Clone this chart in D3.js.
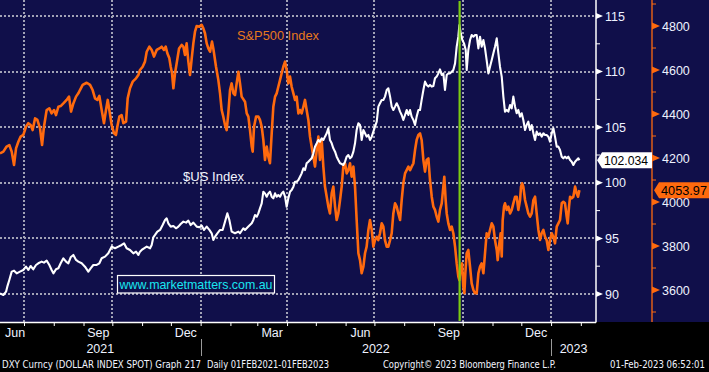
<!DOCTYPE html>
<html><head><meta charset="utf-8">
<script src="https://cdn.jsdelivr.net/npm/d3@7"></script>
<style>html,body{margin:0;padding:0;background:#000;overflow:hidden} svg{display:block}</style>
</head><body>
<svg id="c" width="709" height="372"></svg>
<script>
// ---------- DATA (day offset from 2021-06-06, value) ----------
const startDate = Date.UTC(2021, 5, 6);
const endDay = 620.8;

const spx = [
[0,4221],[3.5,4229],[6.9,4252],[9.7,4259],[12.2,4229],[14.6,4168],[16.7,4244],[19.1,4274],[21.5,4297],[24.3,4305],
[27.1,4342],[29.5,4358],[31.9,4350],[34,4327],[36.5,4380],[38.9,4373],[41.7,4335],[43.8,4259],[45.8,4342],[48.6,4418],
[51.4,4426],[53.8,4403],[56.3,4418],[58.3,4395],[60.8,4433],[63.2,4436],[66,4448],[69.4,4464],[71.9,4479],[74,4411],
[76.4,4448],[79.2,4479],[81.6,4494],[83.3,4509],[86.1,4532],[90.3,4542],[93.8,4532],[96.5,4509],[99,4471],[101.4,4464],
[103.5,4482],[105.9,4418],[108.3,4358],[110.4,4418],[112.2,4464],[113.9,4418],[116.3,4350],[118.8,4312],[120.8,4305],[122.2,4342],
[124.3,4388],[126.7,4395],[128.5,4358],[131.3,4365],[133,4471],[135.4,4517],[138.2,4547],[141.7,4562],[144.1,4577],[145.8,4600],
[148.6,4615],[151,4638],[152.8,4683],[155.6,4706],[158,4691],[160.4,4661],[163.2,4691],[166,4698],[168.4,4706],[170.8,4691],
[172.6,4706],[174.3,4676],[176.4,4653],[177.8,4615],[179.2,4585],[180.6,4517],[182.3,4585],[184,4630],[186.5,4698],[189.2,4714],
[191,4706],[192.7,4668],[194.4,4721],[196.2,4638],[197.9,4577],[199.7,4653],[201.4,4721],[203.1,4774],[204.9,4800],[207.6,4797],
[210.1,4805],[211.8,4789],[213.5,4767],[215.3,4721],[217,4698],[218.8,4683],[220.8,4729],[222.2,4698],[225,4615],[227.4,4555],
[229.2,4494],[230.9,4418],[232.6,4388],[234.4,4350],[236.1,4327],[237.8,4403],[239.6,4509],
[241.3,4539],[243.1,4494],[244.8,4486],[246.5,4539],[248.3,4592],[250,4539],[251.7,4479],[255.2,4456],[257,4403],[258.7,4388],
[260.4,4327],[262.2,4252],[263.2,4229],[264.6,4342],[266.7,4388],[269.1,4388],[270.8,4373],[272.6,4342],[274.3,4282],[276,4191],
[277.8,4252],[279.5,4206],[281.2,4176],[283,4312],[284.7,4433],[286.5,4479],[288.2,4494],[289.9,4524],[291.7,4555],[293.4,4585],
[295.1,4615],[296.9,4638],[298.6,4600],[300.3,4539],[302.1,4570],[303.8,4524],[305.6,4494],[307.3,4464],[309,4479],[310.8,4403],
[312.5,4418],[314.2,4403],[316,4433],[317.7,4464],[319.4,4418],[321.2,4373],[322.9,4297],[324.6,4252],[326.4,4206],[328.1,4161],
[329.9,4236],[331.6,4297],[333.3,4191],[335.1,4282],[336.8,4161],[338.5,4070],[340.3,4024],[342,3979],[343.7,3948],[345.5,4039],
[347.2,4070],[349,3979],[350.7,3918],[352.4,3948],[354.2,4009],[355.9,4070],[357.6,4161],[359.4,4176],[361.1,4130],[362.8,4145],
[364.6,4176],[366.3,4115],[368.1,4161],[369.8,4070],[371.5,3918],[373.3,3767],[375,3736],[376.7,3676],[378.5,3706],[380.2,3767],
[381.9,3797],[383.7,3873],[385.4,3918],[387.2,3873],[388.9,3797],[390.6,3827],[392.4,3842],[394.1,3827],[395.8,3858],[397.6,3903],
[399.3,3888],[401,3827],[402.8,3797],[404.5,3797],[406.3,3827],[408,3858],[409.7,3948],[411.5,3994],[413.2,3979],[414.9,3948],
[416.7,3918],[418.4,4009],[420.1,4085],[421.9,4130],[423.6,4145],[425.4,4161],[427.1,4145],[428.8,4161],[430.6,4176],[432.3,4236],
[434,4282],[435.8,4305],
[437.5,4312],[439.2,4282],[441,4191],[442.7,4138],[444.4,4191],[446.2,4198],[447.9,4100],[449.7,4024],[451.4,3979],[453.1,3964],
[454.9,3933],[456.6,3911],[458.3,3964],[460.1,3994],[461.8,4070],[462.8,4115],[464.2,4009],[465.3,3948],[467,3903],[468.8,3873],
[470.5,3888],[472.2,3858],[474,3797],[475.7,3721],[477.4,3661],[478.5,3645],[479.9,3706],[481.3,3721],[482.6,3615],[483.7,3585],
[484.7,3676],[486.1,3767],[487.8,3782],[489.6,3706],[491.3,3630],[493.1,3600],[494.8,3585],[496.5,3585],[498.3,3676],[500,3706],
[501.7,3721],[503.5,3676],[505.2,3767],[506.9,3858],[508.7,3842],[510.4,3873],[512.2,3903],[513.9,3888],[515.6,3827],[517.4,3782],
[518.4,3736],[520.1,3812],[521.5,3858],[522.6,3752],[523.6,3918],[525,3979],[526,3994],[527.8,3964],[529.5,3979],[531.3,3948],
[533,3964],[534.7,3994],[536.5,4024],[538.2,4024],[539.9,3964],[541.7,4009],[542.7,4070],[543.8,4085],[545.1,4070],[546.9,4009],
[548.6,3979],[550.3,3948],[552.1,3933],[553.8,3948],[555.6,4009],[557.3,4024],[559,3948],[560.8,3873],[562.5,3827],[564.2,3858],
[566,3873],[567.7,3842],[569.4,3827],[571.2,3782],[572.9,3827],[574.7,3858],[576.4,3842],[578.1,3812],[579.9,3888],[581.6,3903],
[583.3,3918],[585.1,3994],[586.8,4001],[588.5,3994],[590.3,3933],[591.3,3903],[592.7,3979],[593.8,4024],[595.5,4017],[597.2,4024],
[599,4070],[600.7,4039],[602.1,4024],[603.5,4053.97]
];

const dxy = [
[0,90.06],[3.5,89.91],[6.3,90.21],[7.6,90.66],[9.7,91.26],[12.2,92.01],[14.6,92.10],[17.4,91.86],[20.8,92.01],[24.3,92.16],
[27.1,92.46],[29.5,92.16],[31.9,92.52],[34.7,92.22],[37.5,92.61],[39.9,92.76],[43.4,92.91],[45.8,92.82],[48.6,93.00],[51.4,92.61],
[53.8,92.16],[55.6,91.86],[58.3,92.22],[60.8,92.31],[63.2,92.76],[66,93.21],[68.8,92.91],[71.2,92.76],[73.6,93.30],[76.4,93.51],
[79.2,93.06],[81.6,92.91],[85.1,92.76],[88.5,92.46],[92,92.01],[94.4,92.31],[97.2,92.61],[100.7,92.61],[103.5,92.76],[105.9,93.21],
[109.4,93.36],[112.8,93.66],[116.3,94.26],[119.8,94.11],[123.3,94.26],[126.7,94.41],[129.2,94.56],[131.9,94.11],[135.4,93.96],[138.9,93.66],
[141.7,93.81],[144.1,93.51],[145.8,93.81],[147.6,93.96],[150,94.11],[152.8,94.26],[156.3,94.11],[158,94.41],[159.7,95.10],[161.5,95.31],
[163.9,95.61],[166.7,95.76],[169.4,96.20],[171.9,96.66],[173.6,96.80],[175.3,96.36],[177.8,96.06],[180.6,96.12],[183.3,95.91],[185.8,96.06],
[188.2,96.30],[191,96.51],[193.8,96.42],[196.2,96.60],[198.6,96.20],[201.4,96.42],[204.9,96.06],[207.6,96.00],[210.1,96.15],[212.5,95.76],
[215.3,96.06],[218.1,95.76],[220.5,95.46],[222.2,94.86],[224,95.16],[226.4,95.46],[229.2,95.76],[231.9,95.76],[234.4,96.51],[236.8,97.25],
[238.9,96.66],[241.3,95.61],[244.8,95.46],[248.3,95.61],
[250,95.46],[253.5,95.91],[255.2,95.76],[258.7,96.06],[262.2,96.36],[263.9,96.66],[265.6,97.10],[267.4,96.95],[269.1,97.25],[270.8,97.70],
[272.6,98.15],[274.3,99.20],[276,99.05],[277.8,98.75],[279.5,99.05],[281.2,99.20],[283,98.75],[284.7,98.60],[286.5,99.05],[288.2,98.75],
[289.9,98.90],[291.7,98.75],[293.4,99.05],[295.1,99.20],[296.9,98.75],[298.6,97.85],[300.3,98.60],[302.1,99.20],[303.8,99.35],[305.6,99.65],
[307.3,100.10],[309,100.10],[310.8,100.25],[312.5,100.55],[314.2,100.85],[316,101.30],[317.7,101.15],[319.4,101.75],[321.2,101.90],[322.9,102.05],
[324.6,102.20],[326.4,102.65],[328.1,103.25],[329.9,103.55],[331.6,103.85],[333.3,103.70],[335.1,104.00],[336.8,103.85],[338.5,104.15],[340.3,104.45],
[342,104.90],[343.7,103.85],[345.5,103.55],[347.2,103.10],[349,102.80],[350.7,102.35],[352.4,102.05],[354.2,101.75],[355.9,101.69],[357.6,101.60],
[359.4,101.90],[361.1,102.35],[362.8,102.50],[364.6,102.20],[366.3,102.35],[368.1,102.80],[369.8,103.55],[371.5,104.75],[373.3,105.35],[375,105.20],
[376.7,103.85],[378.5,104.75],[380.2,104.45],[381.9,104.15],[383.7,104.30],[385.4,103.85],[387.2,104.15],[388.9,104.60],[390.6,105.05],[392.4,105.50],
[394.1,106.85],[395.8,107.15],[397.6,107.45],[399.3,107.45],[401,107.75],[402.8,108.35],[404.5,108.50],[406.3,107.75],[408,106.85],[409.7,106.55],
[411.5,106.85],[413.2,107.15],[414.9,106.85],[416.7,106.40],[418.4,106.10],[420.1,105.65],[421.9,106.10],[423.6,106.55],[425.4,106.10],[427.1,106.55],
[428.8,105.95],[430.6,105.65],[432.3,105.20],[434,105.95],[435.8,106.55],
[437.5,106.55],[439.2,107.45],[441,108.35],[442.7,109.10],[444.4,108.80],[446.2,108.65],[447.9,108.80],[449.7,108.65],[451.4,108.71],[453.1,109.40],
[454.9,109.55],[456.6,109.84],[458.3,110.20],[460.1,109.69],[461.8,109.84],[463.5,108.35],[465.3,109.69],[467,109.84],[468.8,109.84],[470.5,109.99],
[472.2,110.14],[474,110.74],[475.7,112.24],[477.4,113.14],[478.5,114.19],[479.9,113.44],[481.6,112.84],[483.3,112.54],[485.1,111.94],[486.1,110.14],
[487.8,111.94],[489.6,112.84],[491.3,113.29],[493.1,113.14],[494.8,113.29],[496.5,113.29],[498.3,112.09],[500,113.14],[501.7,112.24],[503.5,112.84],
[505.2,112.09],[506.9,111.04],[508.7,109.84],[510.4,110.44],[512.2,111.04],[513.9,111.64],[515.6,112.24],[517.4,112.99],[519.1,111.64],[520.8,110.44],
[522.6,109.55],[524.3,107.75],[526,106.40],[527.8,106.55],[529.5,106.40],[531.3,107.00],[533,106.70],[534.7,107.75],[536.5,106.85],[538.2,106.25],
[539.9,106.55],[541.7,105.95],[543.4,106.25],[545.1,105.65],[546.9,104.75],[548.6,105.20],[550.3,105.50],[552.1,104.75],[553.8,105.20],[555.6,104.45],
[557.3,103.85],[559,104.60],[560.8,104.30],[562.5,104.45],[564.2,104.15],[566,104.45],[567.7,104.30],[569.4,104.30],[571.2,104.15],[572.9,103.70],
[574.7,104.45],[576.4,104.90],[578.1,104.15],[579.9,103.25],[581.6,103.25],[583.3,102.95],[585.1,102.35],[586.8,102.20],[588.5,102.35],[590.3,102.20],
[592,102.35],[593.8,102.05],[595.5,101.90],[597.2,101.60],[599,101.90],[600.7,102.05],[602.4,102.20],[603.5,102.034]
];

const dxyTicks = [90, 95, 100, 105, 110, 115];
const dxyMinor = [92.5, 97.5, 102.5, 107.5, 112.5];
const spxTicks = [3600, 3800, 4000, 4200, 4400, 4600, 4800];
const spxMinor = [3500, 3700, 3900, 4100, 4300, 4500, 4700, 4900];
const monthLabels = [["2021-06-16T12:00Z","Jun"],["2021-09-16T12:00Z","Sep"],["2021-12-16T12:00Z","Dec"],
  ["2022-03-16T12:00Z","Mar"],["2022-06-16T12:00Z","Jun"],["2022-09-16T12:00Z","Sep"],["2022-12-16T12:00Z","Dec"]];
const gridMonths = ["2021-07-01","2021-10-01","2022-01-01","2022-04-01","2022-07-01","2022-10-01","2023-01-01"];
const yearLabels = ["2021", "2022", "2023"];
const yearBreaks = ["2022-01-01", "2023-01-01"];
const markerDate = "2022-09-27T18:00Z";
const lastDxy = 102.034, lastSpx = 4053.97;

// ---------- DRAW ----------
const W = 709, H = 372, plotR = 596, plotB = 322, axis2X = 652;
const navy = "#100f4a", orange = "#ff6a0e", grid = "#a2a2b6", txt = "#eef2ff";
const dayToDate = d => new Date(startDate + d * 864e5);

const x = d3.scaleUtc().domain([dayToDate(0), dayToDate(endDay)]).range([0, plotR]);
const yD = d3.scaleLinear().domain([90, 115]).range([294, 16]);
const yS = d3.scaleLinear().domain([3600, 4800]).range([290, 26]);

const svg = d3.select("#c");
svg.append("rect").attr("width", W).attr("height", H).attr("fill", "#000");
svg.append("rect").attr("width", W).attr("height", plotB).attr("fill", navy);

const defs = svg.append("defs");
defs.append("clipPath").attr("id", "clip").append("rect").attr("width", plotR).attr("height", plotB);

// gridlines
const g = svg.append("g");
g.selectAll(".hg").data(dxyTicks).join("line")
  .attr("x1", 0).attr("x2", plotR - 1).attr("y1", d => Math.round(yD(d))).attr("y2", d => Math.round(yD(d)))
  .attr("stroke", grid).attr("stroke-width", 2).attr("stroke-dasharray", "2,2");
g.selectAll(".vg").data(gridMonths).join("line")
  .attr("x1", d => Math.round(x(new Date(d)))).attr("x2", d => Math.round(x(new Date(d))))
  .attr("y1", 0).attr("y2", plotB)
  .attr("stroke", grid).attr("stroke-width", 2).attr("stroke-dasharray", "2,2");

// lines
const clipG = svg.append("g").attr("clip-path", "url(#clip)");
const lineS = d3.line().x(d => x(dayToDate(d[0]))).y(d => yS(d[1])).curve(d3.curveLinear);
const lineD = d3.line().x(d => x(dayToDate(d[0]))).y(d => yD(d[1])).curve(d3.curveLinear);
clipG.append("path").datum(spx).attr("d", lineS).attr("fill", "none")
  .attr("stroke", orange).attr("stroke-width", 2.6).attr("stroke-linejoin", "round");
clipG.append("path").datum(dxy).attr("d", lineD).attr("fill", "none")
  .attr("stroke", "#ffffff").attr("stroke-width", 2.1).attr("stroke-linejoin", "round");

// green marker
const mx = x(new Date(markerDate));
svg.append("line").attr("x1", mx).attr("x2", mx).attr("y1", 1).attr("y2", plotB - 1)
  .attr("stroke", "#7ccb12").attr("stroke-width", 2.2);

// series labels
svg.append("text").attr("x", 237).attr("y", 40).text("S&P500 Index")
  .attr("fill", "#e8791c").attr("font-family", "Liberation Sans, Arial, sans-serif").attr("font-size", 13.5)
  .attr("textLength", 82).attr("lengthAdjust", "spacingAndGlyphs");
svg.append("text").attr("x", 183).attr("y", 181).text("$US Index")
  .attr("fill", "#f4f6ff").attr("font-family", "Liberation Sans, Arial, sans-serif").attr("font-size", 13.5)
  .attr("textLength", 61).attr("lengthAdjust", "spacingAndGlyphs");

// website box
svg.append("rect").attr("x", 117.5).attr("y", 275.5).attr("width", 157).attr("height", 17.5)
  .attr("fill", navy).attr("stroke", "#ffffff").attr("stroke-width", 1.2);
svg.append("text").attr("x", 119.5).attr("y", 289).text("www.marketmatters.com.au")
  .attr("fill", "#19e6f0").attr("font-family", "Liberation Sans, Arial, sans-serif").attr("font-size", 13.5)
  .attr("textLength", 153).attr("lengthAdjust", "spacingAndGlyphs");

// right DXY axis
const axD = d3.axisRight(yD).tickValues(dxyTicks).tickSize(0).tickPadding(9).tickFormat(d3.format("d"));
const gD = svg.append("g").attr("transform", `translate(${plotR},0)`).call(axD);
gD.select(".domain").remove();
gD.selectAll("text").attr("fill", txt).attr("font-family", "Liberation Sans, Arial, sans-serif").attr("font-size", 12.5);
svg.append("line").attr("x1", plotR).attr("x2", plotR).attr("y1", 0).attr("y2", plotB + 0.5)
  .attr("stroke", "#fff").attr("stroke-width", 1.5);
svg.selectAll(".dtri").data(dxyTicks).join("path")
  .attr("d", d => `M${plotR},${yD(d) - 3}L${plotR + 7},${yD(d)}L${plotR},${yD(d) + 3}Z`).attr("fill", "#fff");
svg.selectAll(".dmin").data(dxyMinor).join("line")
  .attr("x1", plotR).attr("x2", plotR + 4).attr("y1", d => yD(d)).attr("y2", d => yD(d))
  .attr("stroke", "#fff").attr("stroke-width", 1);

// right SPX axis
const axS = d3.axisRight(yS).tickValues(spxTicks).tickSize(0).tickPadding(10).tickFormat(d3.format("d"));
const gS = svg.append("g").attr("transform", `translate(${axis2X},0)`).call(axS);
gS.select(".domain").remove();
gS.selectAll("text").attr("fill", txt).attr("font-family", "Liberation Sans, Arial, sans-serif").attr("font-size", 12.5);
svg.append("line").attr("x1", axis2X).attr("x2", axis2X).attr("y1", 0).attr("y2", plotB)
  .attr("stroke", orange).attr("stroke-width", 1.3);
svg.selectAll(".stri").data(spxTicks).join("path")
  .attr("d", d => `M${axis2X},${yS(d) - 3.5}L${axis2X + 8},${yS(d)}L${axis2X},${yS(d) + 3.5}Z`).attr("fill", orange);
svg.selectAll(".smin").data(spxMinor).join("line")
  .attr("x1", axis2X).attr("x2", axis2X + 4).attr("y1", d => yS(d)).attr("y2", d => yS(d))
  .attr("stroke", orange).attr("stroke-width", 1);

// value tags
const ty = yD(lastDxy);
svg.append("path").attr("d", `M${plotR + 1},${ty}L${plotR + 6},${ty - 8}L${axis2X},${ty - 8}L${axis2X},${ty + 8}L${plotR + 6},${ty + 8}Z`)
  .attr("fill", "#fff");
svg.append("text").attr("x", plotR + 8).attr("y", ty + 4.5).text(d3.format(".3f")(lastDxy))
  .attr("fill", "#000").attr("font-family", "Liberation Sans, Arial, sans-serif").attr("font-size", 12.5)
  .attr("textLength", 44).attr("lengthAdjust", "spacingAndGlyphs");
const sy = yS(lastSpx);
svg.append("path").attr("d", `M${axis2X + 2},${sy}L${axis2X + 7},${sy - 8}L${W},${sy - 8}L${W},${sy + 8}L${axis2X + 7},${sy + 8}Z`)
  .attr("fill", orange);
svg.append("text").attr("x", axis2X + 9).attr("y", sy + 4.5).text(d3.format(".2f")(lastSpx))
  .attr("fill", "#000").attr("font-family", "Liberation Sans, Arial, sans-serif").attr("font-size", 12.5)
  .attr("textLength", 46).attr("lengthAdjust", "spacingAndGlyphs");

// bottom axis
const axB = d3.axisBottom(x).ticks(d3.utcMonth.every(1)).tickSize(4).tickFormat("");
const gB = svg.append("g").attr("transform", `translate(0,${plotB})`).call(axB);
gB.select(".domain").attr("stroke", "#fff").attr("stroke-width", 1.5).attr("d", `M0,0.5H${plotR}`);
gB.selectAll(".tick line").attr("stroke", "#fff").attr("stroke-width", 1);

const mt = svg.append("g");
monthLabels.forEach(([d, lab]) => {
  const t = mt.append("text").attr("x", x(new Date(d))).attr("y", 337).text(lab)
    .attr("fill", txt).attr("font-family", "Liberation Sans, Arial, sans-serif").attr("font-size", 12.5)
    .attr("text-anchor", "middle");
  const w = t.node().getComputedTextLength();
  if (x(new Date(d)) - w / 2 < 5) t.attr("x", 5 + w / 2);
});
const bounds = [0, ...yearBreaks.map(d => x(new Date(d))), plotR];
yearLabels.forEach((lab, i) => {
  mt.append("text").attr("x", (bounds[i] + bounds[i + 1]) / 2).attr("y", 353).text(lab)
    .attr("fill", txt).attr("font-family", "Liberation Sans, Arial, sans-serif").attr("font-size", 12.5)
    .attr("text-anchor", "middle");
});
yearBreaks.forEach(d => {
  const xx = Math.round(x(new Date(d))) + 0.5;
  mt.append("line").attr("x1", xx).attr("x2", xx).attr("y1", 339).attr("y2", 356)
    .attr("stroke", "#9a9a9a").attr("stroke-width", 1);
});

// footer
const foot = [
  ["DXY Curncy (DOLLAR INDEX SPOT) Graph 217", 2, 199],
  ["Daily 01FEB2021-01FEB2023", 207, 122],
  ["Copyright\u00A9 2023 Bloomberg Finance L.P.", 383, 173],
  ["01-Feb-2023 06:52:01", 610, 95]
];
foot.forEach(([s, fx, fw]) => {
  svg.append("text").attr("x", fx).attr("y", 368).text(s)
    .attr("fill", "#f2f4ff").attr("font-family", "Liberation Sans Narrow, DejaVu Sans Condensed, Arial, sans-serif")
    .attr("font-size", 10.5).attr("textLength", fw).attr("lengthAdjust", "spacingAndGlyphs");
});
</script>
</body></html>
